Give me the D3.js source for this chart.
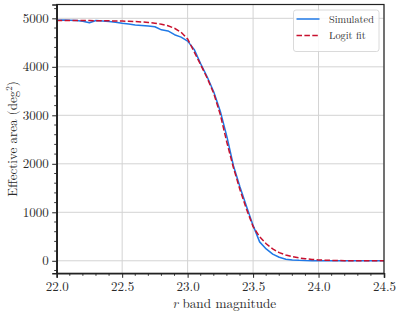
<!DOCTYPE html>
<html>
<head>
<meta charset="utf-8">
<script src="https://cdn.jsdelivr.net/npm/d3@7"></script>
<style>
  html, body { margin: 0; padding: 0; background: #fff; }
  svg { display: block; }
</style>
</head>
<body>
<svg id="chart" width="399" height="311"></svg>
<script>
// ---- data ----
const magnitudes = [
  22.00, 22.05, 22.10, 22.15, 22.20, 22.25, 22.30, 22.35, 22.40, 22.45,
  22.50, 22.55, 22.60, 22.65, 22.70, 22.75, 22.80, 22.85, 22.90, 22.95,
  23.00, 23.05, 23.10, 23.15, 23.20, 23.25, 23.30, 23.35, 23.40, 23.45,
  23.50, 23.55, 23.60, 23.65, 23.70, 23.75, 23.80, 23.85, 23.90, 23.95,
  24.00, 24.05, 24.10, 24.15, 24.20, 24.25, 24.30, 24.35, 24.40, 24.45, 24.50
];
const simulatedArea = [
  4962, 4966, 4960, 4955, 4940, 4908, 4955, 4945, 4935, 4918,
  4898, 4882, 4864, 4852, 4840, 4827, 4762, 4740, 4662, 4612,
  4530, 4360, 4060, 3790, 3480, 3080, 2560, 1960, 1520, 1120,
  730, 390, 245, 138, 72, 33, 18, 10, 5, 3,
  2, 1, 1, 0, 0, 0, 0, 0, 0, 0, 0
];
const logitFitArea = [
  4955, 4955, 4955, 4955, 4954, 4953, 4952, 4950, 4948, 4946,
  4943, 4939, 4933, 4926, 4915, 4900, 4878, 4848, 4795, 4712,
  4575, 4310, 4040, 3765, 3450, 3010, 2440, 1920, 1465, 1065,
  705, 495, 350, 245, 168, 120, 85, 60, 42, 28,
  18, 12, 8, 5, 3, 2, 1, 1, 0, 0, 0
];
const seriesNames = ["Simulated", "Logit fit"];
const xTicks = [22.0, 22.5, 23.0, 23.5, 24.0, 24.5];
const yTicks = [0, 1000, 2000, 3000, 4000, 5000];
const xLabel = "band magnitude";
const yLabel = "Effective area (deg";

// ---- layout ----
const svg = d3.select("#chart");
const FONT = '"Latin Modern Roman"';
const L = 56.7, R = 384, T = 4.5, B = 273.3;

const x = d3.scaleLinear().domain([22.0, 24.5]).range([L, R]);
const y = d3.scaleLinear().domain([-258, 5285]).range([B, T]);

const xMinor = d3.range(22.0, 24.5001, 0.1).map(v => +v.toFixed(2));
const yMinor = d3.range(-200, 5201, 200);

// grid
const grid = svg.append("g");
grid.selectAll(".gx").data(xTicks).enter().append("line")
  .attr("x1", d => x(d)).attr("x2", d => x(d)).attr("y1", T).attr("y2", B)
  .attr("stroke", "#d3d3d3").attr("stroke-width", 1);
grid.selectAll(".gy").data(yTicks).enter().append("line")
  .attr("y1", d => y(d)).attr("y2", d => y(d)).attr("x1", L).attr("x2", R)
  .attr("stroke", "#d3d3d3").attr("stroke-width", 1);

// lines
const line = d3.line().x((d, i) => x(magnitudes[i])).y(d => y(d));
svg.append("path").datum(simulatedArea)
  .attr("d", line).attr("fill", "none")
  .attr("stroke", "#1f78e6").attr("stroke-width", 1.5)
  .attr("stroke-linejoin", "round");
svg.append("path").datum(logitFitArea)
  .attr("d", line).attr("fill", "none")
  .attr("stroke", "#c8102e").attr("stroke-width", 1.5)
  .attr("stroke-dasharray", "5.5,2.4");

// frame
svg.append("rect").attr("x", L).attr("y", T).attr("width", R - L).attr("height", B - T)
  .attr("fill", "none").attr("stroke", "#222").attr("stroke-width", 1.2);

// axes: major
const xAxis = d3.axisBottom(x).tickValues(xTicks).tickFormat(d3.format(".1f"))
  .tickSize(4.5).tickPadding(4);
const gx = svg.append("g").attr("transform", `translate(0,${B})`).call(xAxis);
const yAxis = d3.axisLeft(y).tickValues(yTicks).tickFormat(d3.format("d"))
  .tickSize(4.5).tickPadding(3.5);
const gy = svg.append("g").attr("transform", `translate(${L},0)`).call(yAxis);
[gx, gy].forEach(g => {
  g.attr("font-family", null).attr("font-size", null);
  g.select(".domain").attr("stroke", "#222").attr("stroke-width", 1.6);
  g.selectAll(".tick line").attr("stroke", "#222").attr("stroke-width", 1);
  g.selectAll(".tick text").style("font-family", FONT)
    .style("font-size", "13px").attr("fill", "#2a2a2a");
});

// minor ticks
svg.append("g").selectAll("line").data(xMinor.filter(v => !xTicks.some(t => Math.abs(t - v) < 1e-6)))
  .enter().append("line")
  .attr("x1", d => x(d)).attr("x2", d => x(d)).attr("y1", B).attr("y2", B + 2.5)
  .attr("stroke", "#222").attr("stroke-width", 0.9);
svg.append("g").selectAll("line").data(yMinor.filter(v => !yTicks.includes(v)))
  .enter().append("line")
  .attr("y1", d => y(d)).attr("y2", d => y(d)).attr("x1", L - 2.5).attr("x2", L)
  .attr("stroke", "#222").attr("stroke-width", 0.9);

// axis labels
const xl = svg.append("text").attr("x", (L + R) / 2 + 4).attr("y", 308.3)
  .attr("text-anchor", "middle").style("font-family", FONT)
  .style("font-size", "13.2px").attr("fill", "#2a2a2a");
xl.append("tspan").style("font-style", "italic").text("r");
xl.append("tspan").text(" " + xLabel);

const yl = svg.append("text")
  .attr("transform", `translate(17,${(T + B) / 2}) rotate(-90)`)
  .attr("text-anchor", "middle").style("font-family", FONT)
  .style("font-size", "13px").attr("fill", "#2a2a2a");
yl.append("tspan").text(yLabel);
yl.append("tspan").attr("dy", -5).style("font-size", "9px").text("2");
yl.append("tspan").attr("dy", 5).text(")");

// legend
const lg = svg.append("g");
lg.append("rect").attr("x", 293.5).attr("y", 10).attr("width", 85.5).attr("height", 41.5)
  .attr("rx", 2.5).attr("fill", "#fff").attr("fill-opacity", 0.85)
  .attr("stroke", "#d0d0d0").attr("stroke-width", 0.8);
const legendStyles = [
  { color: "#1f78e6", dash: null },
  { color: "#c8102e", dash: "5.5,2.4" }
];
seriesNames.forEach((name, i) => {
  const cy = 19 + i * 16.5;
  lg.append("line").attr("x1", 296.5).attr("x2", 319.5).attr("y1", cy).attr("y2", cy)
    .attr("stroke", legendStyles[i].color).attr("stroke-width", 1.5)
    .attr("stroke-dasharray", legendStyles[i].dash);
  lg.append("text").attr("x", 329).attr("y", cy + 3.5).style("font-family", FONT)
    .style("font-size", "10.3px").attr("fill", "#2a2a2a").text(name);
});
</script>
</body>
</html>
